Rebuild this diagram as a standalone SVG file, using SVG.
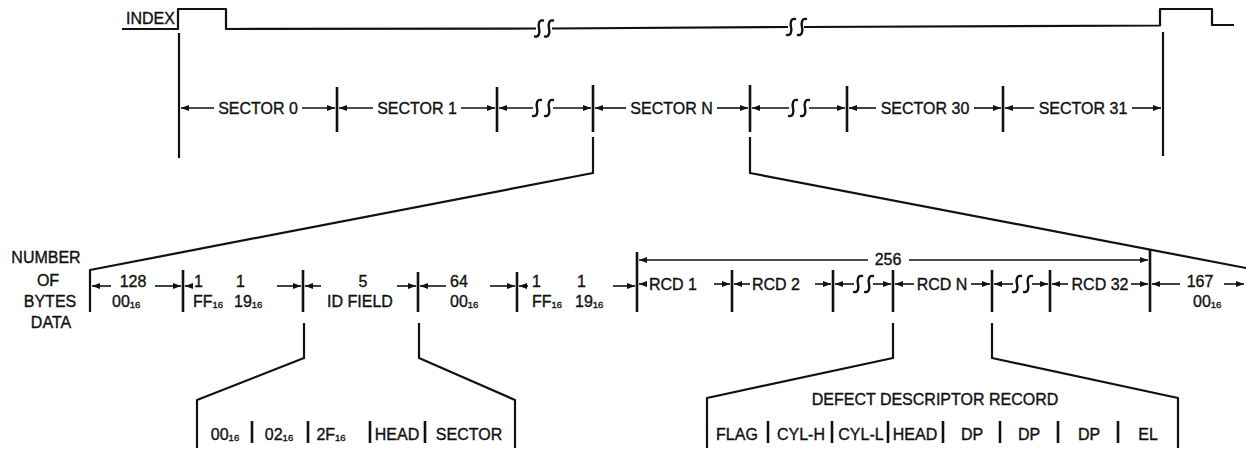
<svg xmlns="http://www.w3.org/2000/svg" width="1246" height="452" viewBox="0 0 1246 452">
<style>
.t{font-family:"Liberation Sans",Arial,sans-serif;font-size:16px;fill:#111;stroke:#111;stroke-width:0.35}
.m{text-anchor:middle}
.s{font-size:9.5px}
.ln{stroke:#111;stroke-width:2.2;fill:none;stroke-linejoin:round}
.tk{stroke:#111;stroke-width:2.6;fill:none}
.dm{stroke:#111;stroke-width:1.6;fill:none;marker-end:url(#ah)}
.bk{stroke:#111;stroke-width:2.4;fill:none;stroke-linecap:round}
</style>
<defs>
<marker id="ah" markerUnits="userSpaceOnUse" markerWidth="9" markerHeight="7" refX="8" refY="3" orient="auto">
<path d="M0,0 L8,3 L0,6 z" fill="#111"/>
</marker>
<path id="brk" d="M4,-8 C0,-9 -1,-4 0,0 C1,4 0,9 -4,8"/>
</defs>
<rect width="1246" height="452" fill="#fff"/>

<g id="index-signal">
<text class="t" x="126" y="24">INDEX</text>
<path class="ln" d="M122,29 H178 V9 H226 V29 L536,28.5"/>
<path class="ln" d="M552,28.5 L788,27"/>
<path class="ln" d="M804,27 L1160,25.5 V9 H1212 V25 H1234"/>
<use href="#brk" class="bk" x="539" y="28.5"/>
<use href="#brk" class="bk" x="549" y="28.5"/>
<use href="#brk" class="bk" x="791" y="27"/>
<use href="#brk" class="bk" x="802" y="27"/>
</g>

<g id="sector-track">
<path class="ln" d="M179,33 V158"/>
<path class="ln" d="M1163,32 V156"/>
<path class="tk" d="M337,87 V132 M497,87 V132 M593,85 V132 M750,85 V132 M847,86 V132 M1003,86 V132"/>
<text class="t m" x="258" y="114">SECTOR 0</text>
<text class="t m" x="417" y="114">SECTOR 1</text>
<text class="t m" x="671.5" y="114">SECTOR N</text>
<text class="t m" x="925" y="114">SECTOR 30</text>
<text class="t m" x="1083" y="114">SECTOR 31</text>
<use href="#brk" class="bk" x="537" y="108"/>
<use href="#brk" class="bk" x="549" y="108"/>
<use href="#brk" class="bk" x="793" y="108"/>
<use href="#brk" class="bk" x="805" y="108"/>
</g>

<g id="sector-fields">
<text class="t m" x="46" y="263">NUMBER</text>
<text class="t m" x="48" y="286">OF</text>
<text class="t m" x="50" y="307">BYTES</text>
<text class="t m" x="51" y="328">DATA</text>
<path class="tk" d="M183,270 V312 M303,270 V312 M418,272 V312 M517,272 V312 M637,252 V312 M732,270 V312 M833,270 V312 M893,270 V312 M992,270 V312 M1050,270 V312 M1150,250 V312"/>
<text class="t m" x="133" y="287">128</text>
<text class="t" x="112" y="307">00<tspan class="s" dy="1">16</tspan></text>
<text class="t" x="194" y="287">1</text>
<text class="t" x="236" y="287">1</text>
<text class="t" x="193" y="307">FF<tspan class="s" dy="1">16</tspan></text>
<text class="t" x="234" y="307">19<tspan class="s" dy="1">16</tspan></text>
<text class="t m" x="363" y="287">5</text>
<text class="t m" x="360" y="307">ID FIELD</text>
<text class="t" x="450" y="287">64</text>
<text class="t" x="450" y="307">00<tspan class="s" dy="1">16</tspan></text>
<text class="t" x="532" y="287">1</text>
<text class="t" x="577" y="287">1</text>
<text class="t" x="532" y="307">FF<tspan class="s" dy="1">16</tspan></text>
<text class="t" x="575" y="307">19<tspan class="s" dy="1">16</tspan></text>
<text class="t" x="649" y="290">RCD 1</text>
<text class="t" x="752" y="290">RCD 2</text>
<text class="t m" x="942" y="290">RCD N</text>
<text class="t m" x="1100" y="290">RCD 32</text>
<text class="t m" x="1200" y="287">167</text>
<text class="t" x="1193" y="307">00<tspan class="s" dy="1">16</tspan></text>
<text class="t m" x="888" y="265">256</text>
<use href="#brk" class="bk" x="858" y="284"/>
<use href="#brk" class="bk" x="869" y="284"/>
<use href="#brk" class="bk" x="1017" y="284"/>
<use href="#brk" class="bk" x="1028" y="284"/>
</g>

<g id="id-field-detail">
<path class="tk" d="M252,421 V443 M308,421 V443 M370,421 V443 M425,421 V443"/>
<text class="t m" x="225" y="440">00<tspan class="s" dy="1">16</tspan></text>
<text class="t m" x="279" y="440">02<tspan class="s" dy="1">16</tspan></text>
<text class="t m" x="331" y="440">2F<tspan class="s" dy="1">16</tspan></text>
<text class="t m" x="397" y="440">HEAD</text>
<text class="t m" x="469" y="440">SECTOR</text>
</g>

<g id="defect-descriptor-record">
<text class="t m" x="935" y="405">DEFECT DESCRIPTOR RECORD</text>
<path class="tk" d="M768,421 V443 M832,421 V443 M888,421 V443 M943,421 V443 M1000,421 V443 M1058,421 V443 M1118,421 V443"/>
<text class="t m" x="737" y="440">FLAG</text>
<text class="t m" x="801" y="440">CYL-H</text>
<text class="t m" x="861" y="440">CYL-L</text>
<text class="t m" x="915" y="440">HEAD</text>
<text class="t m" x="972" y="440">DP</text>
<text class="t m" x="1029" y="440">DP</text>
<text class="t m" x="1089" y="440">DP</text>
<text class="t m" x="1148" y="440">EL</text>
</g>

<g id="connectors">
<path class="dm" d="M214,108 H181"/>
<path class="dm" d="M302,108 H335"/>
<path class="dm" d="M373,108 H339"/>
<path class="dm" d="M461,108 H495"/>
<path class="dm" d="M533,108 H499"/>
<path class="dm" d="M553,108 H591"/>
<path class="dm" d="M626,108 H595"/>
<path class="dm" d="M717,108 H748"/>
<path class="dm" d="M789,108 H752"/>
<path class="dm" d="M809,108 H845"/>
<path class="dm" d="M876,108 H849"/>
<path class="dm" d="M974,108 H1001"/>
<path class="dm" d="M1034,108 H1005"/>
<path class="dm" d="M1132,108 H1161"/>

<path class="ln" d="M593,137 V173 L90,270 V312"/>
<path class="ln" d="M750,137 V173 L1246,268"/>

<path class="dm" d="M111,286 H92"/>
<path class="dm" d="M155,286 H181"/>
<path class="dm" d="M193,286 H185"/>
<path class="dm" d="M277,286 H301"/>
<path class="dm" d="M321,286 H305"/>
<path class="dm" d="M397,286 H416"/>
<path class="dm" d="M446,286 H420"/>
<path class="dm" d="M490,286 H515"/>
<path class="dm" d="M528,286 H519"/>
<path class="dm" d="M613,286 H635"/>
<path class="dm" d="M647,284 H639"/>
<path class="dm" d="M714,284 H730"/>
<path class="dm" d="M750,284 H734"/>
<path class="dm" d="M815,284 H831"/>
<path class="dm" d="M854,284 H835"/>
<path class="dm" d="M873,284 H891"/>
<path class="dm" d="M914,284 H895"/>
<path class="dm" d="M971,284 H990"/>
<path class="dm" d="M1013,284 H994"/>
<path class="dm" d="M1032,284 H1048"/>
<path class="dm" d="M1068,284 H1052"/>
<path class="dm" d="M1131,284 H1148"/>
<path class="dm" d="M1180,284 H1152"/>
<path class="dm" d="M1224,284 H1244"/>
<path class="dm" d="M868,260 H639"/>
<path class="dm" d="M909,260 H1148"/>

<path class="ln" d="M304,323 V358 L197,400 V448"/>
<path class="ln" d="M419,323 V358 L515,400 V448"/>
<path class="ln" d="M893,323 V358 L707,398 V448"/>
<path class="ln" d="M992,323 V358 L1178,398 V448"/>
</g>
</svg>
